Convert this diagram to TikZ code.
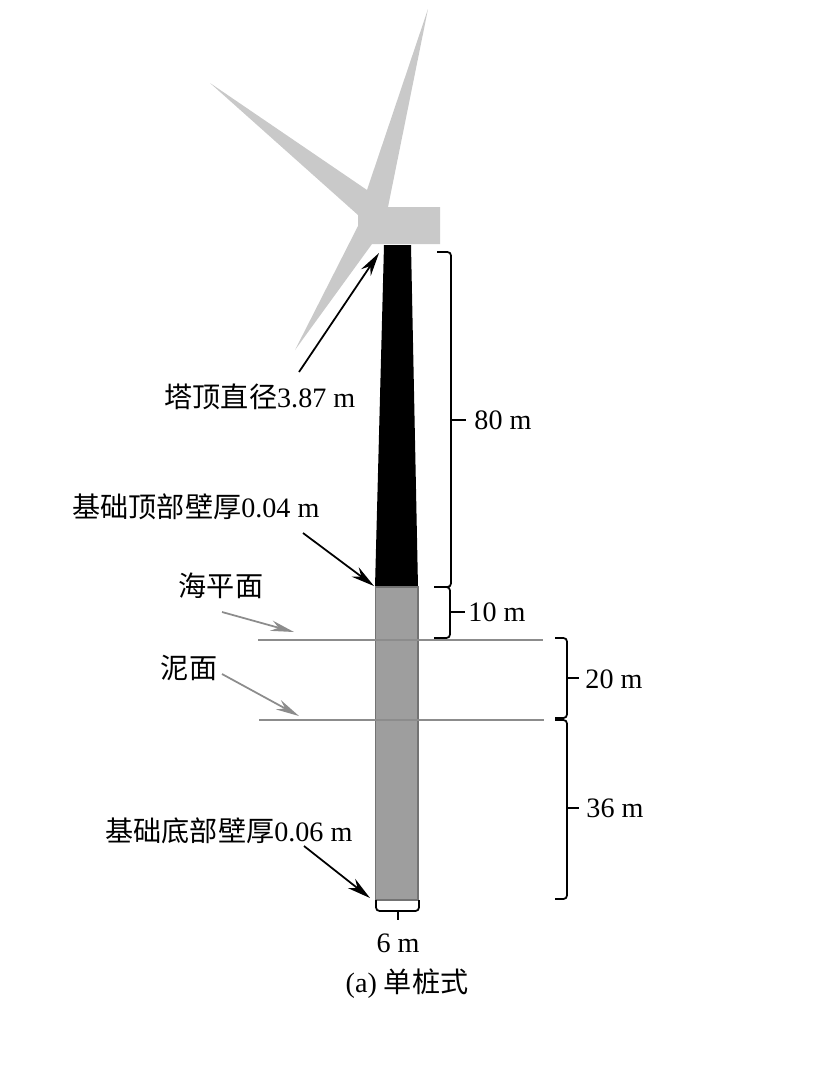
\documentclass[tikz,border=0pt]{standalone}
\usepackage{fontspec}
\usepackage{xcolor}
\setmainfont{Liberation Serif}
\newfontfamily\cjk{Noto Sans CJK SC}
\usetikzlibrary{arrows.meta}
\definecolor{rotor-grey}{gray}{0.79}
\definecolor{pile-grey}{gray}{0.62}
\definecolor{pile-edge}{gray}{0.45}
\definecolor{level-grey}{gray}{0.55}
\tikzset{
    label-text/.style = {font=\fontsize{24}{28}\selectfont, inner sep=0pt},
    black-arrow/.style = {draw=black, line width=1.5pt, -{Stealth[length=20pt,width=10pt]}},
    grey-arrow/.style = {draw=level-grey, line width=1.5pt, -{Stealth[length=20pt,width=9pt]}},
    level-line/.style = {draw=level-grey, line width=1.3pt},
    dim-brace/.style = {draw=black, line width=1.5pt, rounded corners=3pt},
    dim-tick/.style = {draw=black, line width=1.5pt},
}

\begin{document}
\begin{tikzpicture}[x=0.03cm, y=-0.03cm]
\useasboundingbox (0,0) rectangle (824,1081);

% rotor and nacelle
\fill[rotor-grey] (428,9) -- (388,207) -- (440,207) -- (440,244) -- (372,244) -- (295,350)
    -- (358,226) -- (358,215) -- (210,83) -- (367,190) -- cycle;

% tower and pile
\fill[black] (384,245) -- (411,245) -- (418,587) -- (375,587) -- cycle;
\draw[draw=pile-edge, fill=pile-grey, line width=0.9pt] (375.5,587) rectangle (418,900);

% levels
\coordinate (sea-left) at (258,640);
\coordinate (sea-right) at (543,640);
\coordinate (mud-left) at (259,720);
\coordinate (mud-right) at (544,720);
\draw[level-line] (sea-left) -- (sea-right);
\draw[level-line] (mud-left) -- (mud-right);

% labels
\node[label-text] (top-dia) at (260,397) {{\cjk 塔顶直径}3.87 m};
\node[label-text] (base-top) at (196,507) {{\cjk 基础顶部壁厚}0.04 m};
\node[label-text] (sea) at (221,586) {\cjk 海平面};
\node[label-text] (mud) at (189,668) {\cjk 泥面};
\node[label-text] (base-bottom) at (229,831) {{\cjk 基础底部壁厚}0.06 m};
\node[label-text] (len-80) at (503,420) {80 m};
\node[label-text] (len-10) at (497,612) {10 m};
\node[label-text] (len-20) at (614,679) {20 m};
\node[label-text] (len-36) at (615,808) {36 m};
\node[label-text] (len-6) at (398,943) {6 m};
\node[label-text] (caption) at (407,984) {(a) {\cjk 单桩式}};

% arrows
\coordinate (top-dia-tail) at (299,372);
\coordinate (top-dia-head) at (379,253);
\coordinate (base-top-tail) at (303,533);
\coordinate (base-top-head) at (374,586);
\coordinate (sea-tail) at (222,612);
\coordinate (sea-head) at (294,632);
\coordinate (mud-tail) at (222,674);
\coordinate (mud-head) at (299,716);
\coordinate (base-bottom-tail) at (304,846);
\coordinate (base-bottom-head) at (370,898);
\draw[black-arrow] (top-dia-tail) -- (top-dia-head);
\draw[black-arrow] (base-top-tail) -- (base-top-head);
\draw[grey-arrow] (sea-tail) -- (sea-head);
\draw[grey-arrow] (mud-tail) -- (mud-head);
\draw[black-arrow] (base-bottom-tail) -- (base-bottom-head);

% braces
\draw[dim-brace] (437,252) -- (451,252) -- (451,587) -- (437,587);
\draw[dim-tick] (451,420) -- (466,420);
\draw[dim-brace] (434,587) -- (450,587) -- (450,638) -- (434,638);
\draw[dim-tick] (450,612) -- (465,612);
\draw[dim-brace] (555,638) -- (567,638) -- (567,718) -- (555,718);
\draw[dim-tick] (567,678) -- (579,678);
\draw[dim-brace] (555,720) -- (567,720) -- (567,899) -- (555,899);
\draw[dim-tick] (567,808) -- (579,808);
\draw[dim-brace] (376,900) -- (376,911) -- (419,911) -- (419,900);
\draw[dim-tick] (398,911) -- (398,920);
\end{tikzpicture}
\end{document}
